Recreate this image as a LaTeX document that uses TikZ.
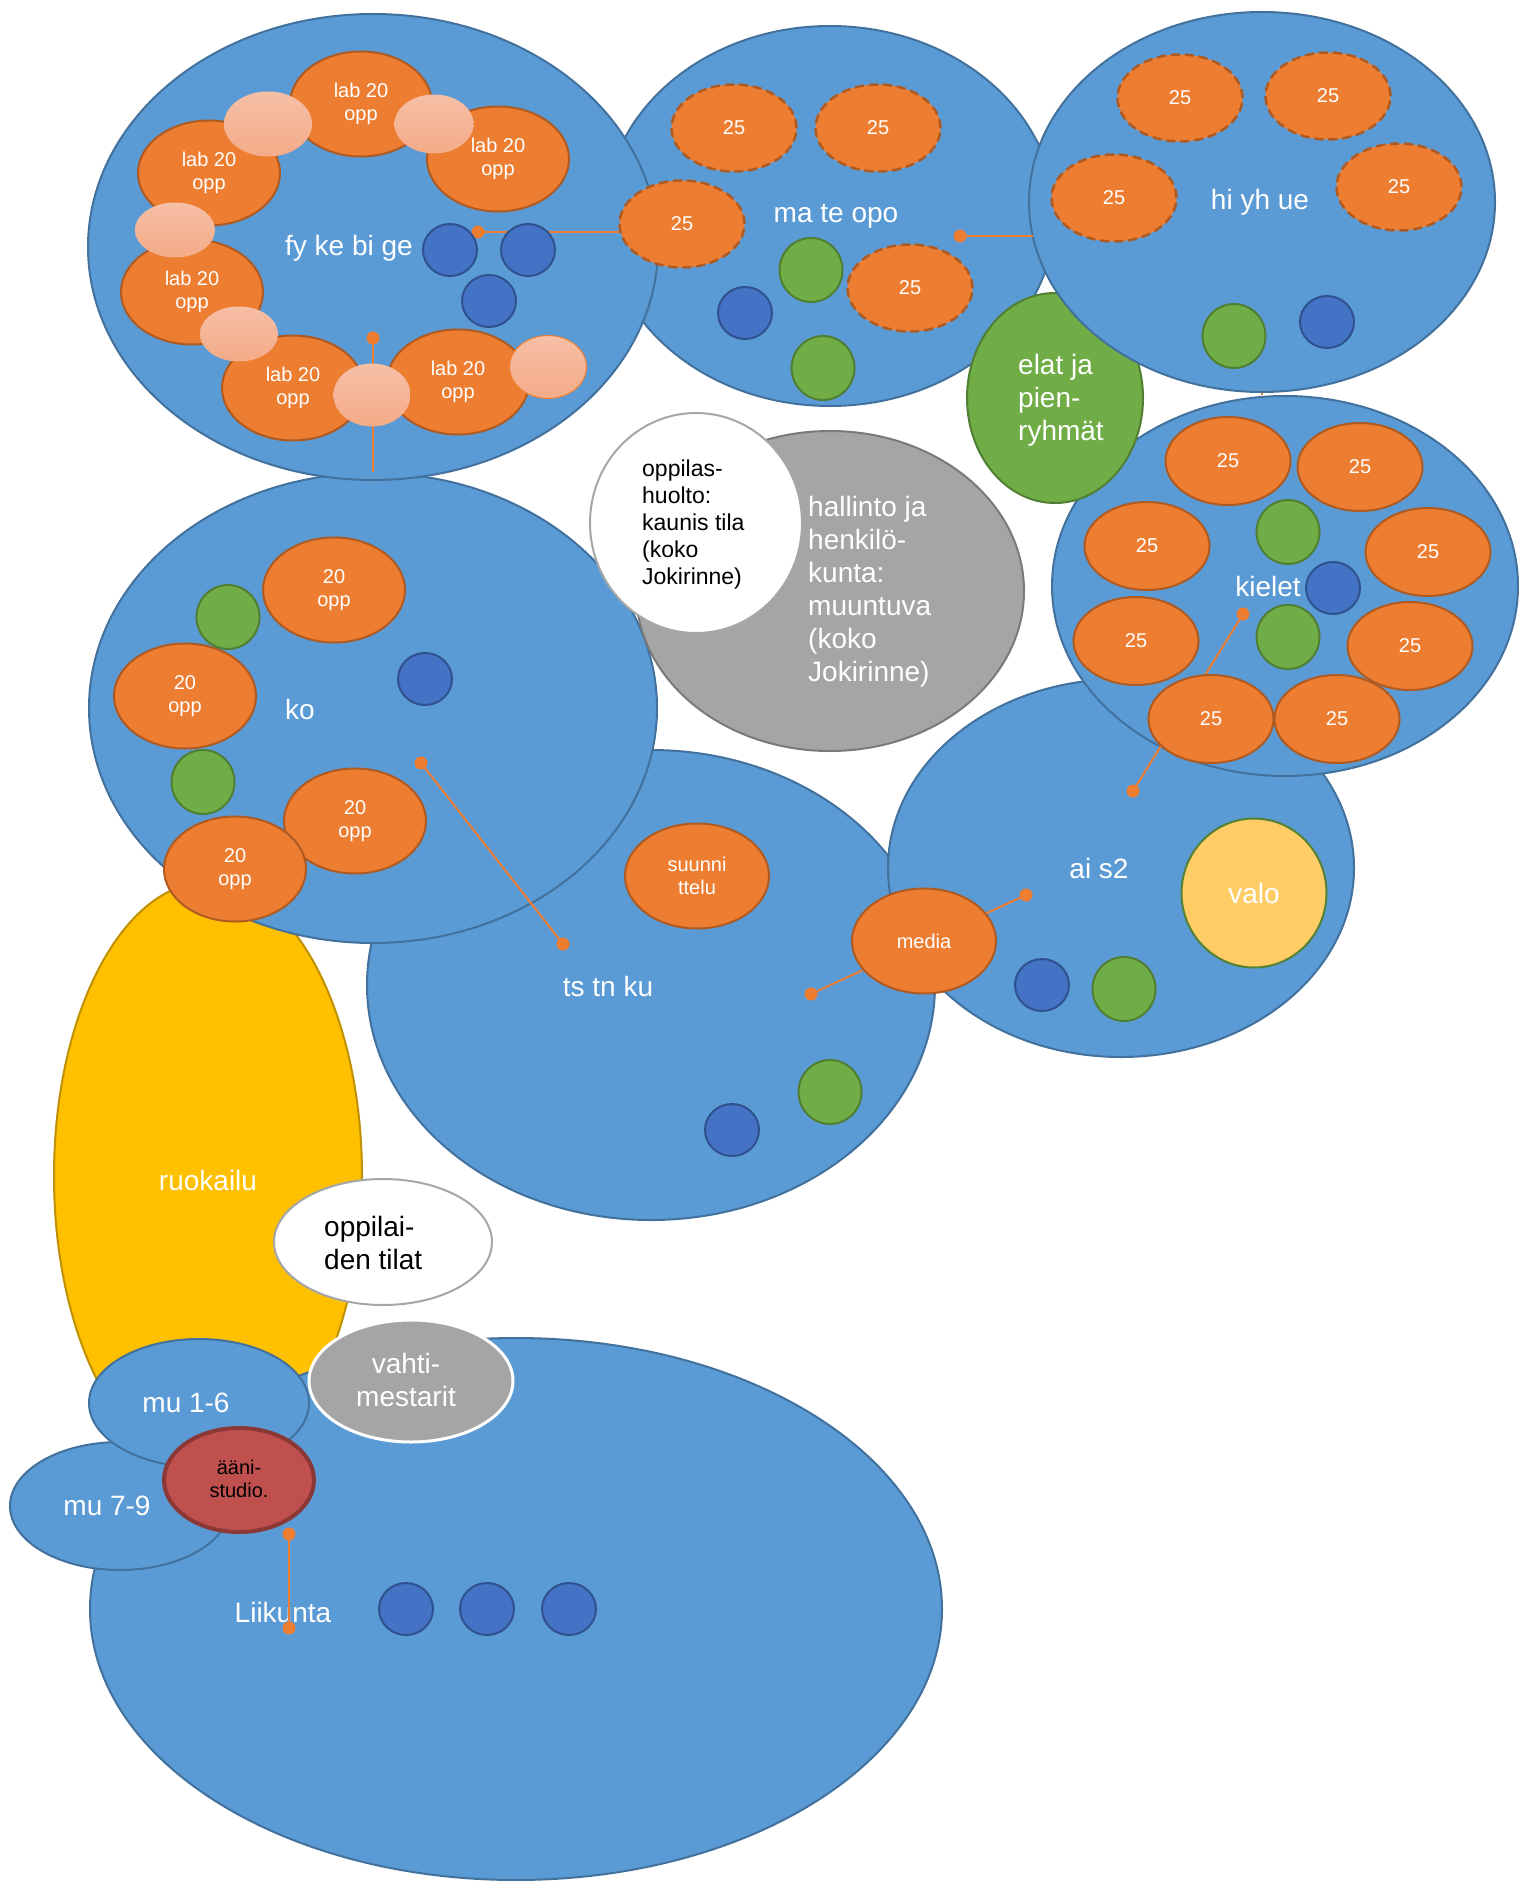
\documentclass[tikz,border=0pt]{standalone}
\usepackage{fontspec}
\setmainfont{Liberation Sans}
\usetikzlibrary{shapes.geometric}
\definecolor{bblue}{HTML}{5B9BD5}
\definecolor{bblueline}{HTML}{41719C}
\definecolor{org}{HTML}{ED7D31}
\definecolor{orgline}{HTML}{AE5A21}
\definecolor{dblue}{HTML}{4472C4}
\definecolor{dblueline}{HTML}{2F528F}
\definecolor{grn}{HTML}{70AD47}
\definecolor{grnline}{HTML}{507E32}
\definecolor{gry}{HTML}{A5A5A5}
\definecolor{gryline}{HTML}{7A7A7A}
\definecolor{ylw}{HTML}{FFC000}
\definecolor{ylwline}{HTML}{BF9000}
\definecolor{valoc}{HTML}{FFCC66}
\definecolor{valoline}{HTML}{548235}
\definecolor{redc}{HTML}{C0504D}
\definecolor{redline}{HTML}{8C3836}
\definecolor{pinktop}{HTML}{F6BFA5}
\definecolor{pinkbot}{HTML}{F4AB88}
\definecolor{wline}{HTML}{A6A6A6}
\newcommand\bigf{\fontsize{28}{33}\selectfont}
\newcommand\midf{\fontsize{23}{27}\selectfont}
\newcommand\smallf{\fontsize{20}{23.5}\selectfont}
\tikzset{
  ell/.style={ellipse, inner sep=0pt, line width=2pt},
  big/.style={ell, fill=bblue, draw=bblueline},
  yel/.style={ell, fill=ylw, draw=ylwline},
  grey/.style={ell, fill=gry, draw=gryline},
  wht/.style={ell, fill=white, draw=wline},
  grnbig/.style={ell, fill=grn, draw=grnline},
  lab/.style={ell, fill=org, draw=orgline, text=white, font=\smallf, align=center, minimum width=142, minimum height=105},
  dashtf/.style={lab, dash pattern=on 9pt off 5pt, line width=2.5pt, minimum width=125, minimum height=87},
  soltf/.style={lab, minimum width=125, minimum height=88},
  pinkell/.style={ellipse, inner sep=0pt, top color=pinktop, bottom color=pinkbot, draw=none},
  sblue/.style={ell, fill=dblue, draw=dblueline, minimum width=54, minimum height=52},
  sgreen/.style={ell, fill=grn, draw=grnline, minimum width=63, minimum height=64},
  conn/.style={draw=org, line width=2pt},
  cdot/.style={circle, fill=org, minimum size=13pt, inner sep=0pt},
  lbl/.style={text=white, font=\bigf, inner sep=0pt},
  blk/.style={text=black, inner sep=0pt},
}
\begin{document}
\begin{tikzpicture}[x=1pt,y=-1pt]
\useasboundingbox (0,0) rectangle (1518,1881);

% ---------- large areas ----------
\node[yel, minimum width=308, minimum height=588] (ruok) at (208,1176) {};
\node[big, minimum width=568, minimum height=470] (ts) at (651,985) {};
\node[big, minimum width=568, minimum height=470] (ko) at (373,708) {};
\node[big, minimum width=466, minimum height=378] (ai) at (1121,868) {};
\node[big, minimum width=466, minimum height=380] (kiel) at (1285,586) {};
\node[grey, minimum width=388, minimum height=320] (hall) at (830,591) {};
\node[wht, minimum width=212, minimum height=220] (ohu) at (696,523) {};
\node[big, minimum width=450, minimum height=380] (ma) at (830,216) {};
\node[big, minimum width=570, minimum height=466] (fy) at (373,247) {};
\node[grnbig, minimum width=176, minimum height=210] (elat) at (1055,398) {};
\node[big, minimum width=466, minimum height=380] (hi) at (1262,202) {};
\node[big, minimum width=852, minimum height=542] (liik) at (516,1609) {};
\node[wht, minimum width=218, minimum height=126] (otil) at (383,1242) {};
\node[grey, draw=white, line width=3pt, minimum width=204, minimum height=122] (vaht) at (411,1381) {};
\node[big, minimum width=220, minimum height=128] (mu79) at (120,1506) {};
\node[big, minimum width=220, minimum height=128] (mu16) at (199,1403) {};
\node[ell, fill=redc, draw=redline, line width=4pt, minimum width=150, minimum height=104] (aani) at (239,1480) {};

% ---------- connectors ----------
\node[cdot] (fyd) at (478,232) {};
\coordinate (fye) at (682,232);
\draw[conn] (fyd.center) -- (fye);
\node[cdot] (fyv) at (373,338) {};
\draw[conn] (fyv.center) -- (ko.north);
\node[cdot] (mad) at (960,236) {};
\coordinate (mae) at (1033,236);
\draw[conn] (mad.center) -- (mae);
\draw[conn] (hi.south) -- (hi.south |- kiel.north);
\node[cdot] (kid) at (1243,614) {};
\node[cdot] (aid1) at (1133,791) {};
\draw[conn] (kid.center) -- (aid1.center);
\node[cdot] (kod) at (421,763) {};
\node[cdot] (tsd1) at (563,944) {};
\draw[conn] (kod.center) -- (tsd1.center);
\node[cdot] (tsd2) at (811,994) {};
\node[cdot] (aid2) at (1026,895) {};
\draw[conn] (tsd2.center) -- (aid2.center);

% ---------- fy ke bi ge ----------
\node[lab] (la) at (361,104) {lab 20\\opp};
\node[lab] (lb) at (498,159) {lab 20\\opp};
\node[lab] (lc) at (209,173) {lab 20\\opp};
\node[lab] (ld) at (192,292) {lab 20\\opp};
\node[lab] (le) at (293,388) {lab 20\\opp};
\node[lab] (lf) at (458,382) {lab 20\\opp};
\node[pinkell, minimum width=88, minimum height=65] (p1) at (268,124) {};
\node[pinkell, minimum width=79, minimum height=59] (p2) at (434,124) {};
\node[pinkell, minimum width=80, minimum height=55] (p3) at (175,230) {};
\node[pinkell, minimum width=78, minimum height=55] (p4) at (239,334) {};
\node[pinkell, minimum width=77, minimum height=63] (p5) at (372,395) {};
\node[pinkell, draw=org, line width=1pt, minimum width=77, minimum height=63] (p6) at (548,367) {};
\node[sblue] (fb1) at (450,250) {};
\node[sblue] (fb2) at (528,250) {};
\node[sblue] (fb3) at (489,301) {};
\node[lbl] (tfy) at (349,248) {fy ke bi ge};

% ---------- ma te opo ----------
\node[dashtf] (m1) at (734,128) {25};
\node[dashtf] (m2) at (878,128) {25};
\node[dashtf] (m3) at (682,224) {25};
\node[dashtf] (m4) at (910,288) {25};
\node[sgreen] (mg1) at (811,270) {};
\node[sgreen] (mg2) at (823,368) {};
\node[sblue] (mb1) at (745,313) {};
\node[lbl] (tma) at (836,216) {ma te opo};

% ---------- hi yh ue ----------
\node[dashtf] (h1) at (1180,98) {25};
\node[dashtf] (h2) at (1328,96) {25};
\node[dashtf] (h3) at (1114,198) {25};
\node[dashtf] (h4) at (1399,187) {25};
\node[sgreen] (hg1) at (1234,336) {};
\node[sblue] (hb1) at (1327,322) {};
\node[lbl] (thi) at (1260,202) {hi yh ue};

% ---------- elat ----------
\node[lbl, align=left, anchor=west] (telat) at (1018,400) {elat ja\\pien-\\ryhmät};

% ---------- kielet ----------
\node[soltf] (k1) at (1228,461) {25};
\node[soltf] (k2) at (1360,467) {25};
\node[soltf] (k3) at (1147,546) {25};
\node[soltf] (k4) at (1428,552) {25};
\node[soltf] (k5) at (1136,641) {25};
\node[soltf] (k6) at (1410,646) {25};
\node[soltf] (k7) at (1211,719) {25};
\node[soltf] (k8) at (1337,719) {25};
\node[sgreen] (kg1) at (1288,532) {};
\node[sgreen] (kg2) at (1288,637) {};
\node[sblue] (kb1) at (1333,588) {};
\node[lbl] (tkiel) at (1268,586) {kielet};

% ---------- hallinto / oppilashuolto ----------
\node[lbl, align=left, anchor=west] (thall) at (808,592) {hallinto ja\\henkilö-\\kunta:\\muuntuva\\(koko\\Jokirinne)};
\node[blk, font=\midf, align=left, anchor=west] (tohu) at (642,525) {oppilas-\\huolto:\\kaunis tila\\(koko\\Jokirinne)};

% ---------- ko ----------
\node[lab] (o1) at (334,590) {20\\opp};
\node[lab] (o2) at (185,696) {20\\opp};
\node[lab] (o3) at (355,821) {20\\opp};
\node[lab] (o4) at (235,869) {20\\opp};
\node[sgreen] (og1) at (228,617) {};
\node[sgreen] (og2) at (203,782) {};
\node[sblue] (ob1) at (425,679) {};
\node[lbl] (tko) at (300,709) {ko};

% ---------- ts tn ku ----------
\node[lab, minimum width=144] (suun) at (697,876) {suunni\\ttelu};
\node[lab, minimum width=144] (media) at (924,941) {media};
\node[sgreen] (tg1) at (830,1092) {};
\node[sblue] (tb1) at (732,1130) {};
\node[lbl] (tts) at (608,986) {ts tn ku};

% ---------- ai s2 ----------
\node[ell, fill=valoc, draw=valoline, minimum width=145, minimum height=149, text=white, font=\bigf] (valo) at (1254,893) {valo};
\node[sblue] (ab1) at (1042,985) {};
\node[sgreen] (ag1) at (1124,989) {};
\node[lbl] (tai) at (1099,868) {ai s2};

% ---------- lower left ----------
\node[lbl] (truok) at (208,1180) {ruokailu};
\node[blk, font=\bigf, align=left, anchor=west] (totil) at (324,1243) {oppilai-\\den tilat};
\node[lbl, align=center] (tvaht) at (406,1380) {vahti-\\mestarit};
\node[lbl] (tmu16) at (186,1403) {mu 1-6};
\node[lbl] (tmu79) at (107,1506) {mu 7-9};
\node[blk, font=\smallf, align=center] (taani) at (239,1479) {ääni-\\studio.};
\node[sblue] (lb1) at (406,1609) {};
\node[sblue] (lb2) at (487,1609) {};
\node[sblue] (lb3) at (569,1609) {};
\node[lbl] (tliik) at (283,1612) {Liikunta};
\node[cdot] (ld1) at (289,1534) {};
\node[cdot] (ld2) at (289,1628) {};
\draw[conn] (ld1.center) -- (ld2.center);
\end{tikzpicture}
\end{document}
